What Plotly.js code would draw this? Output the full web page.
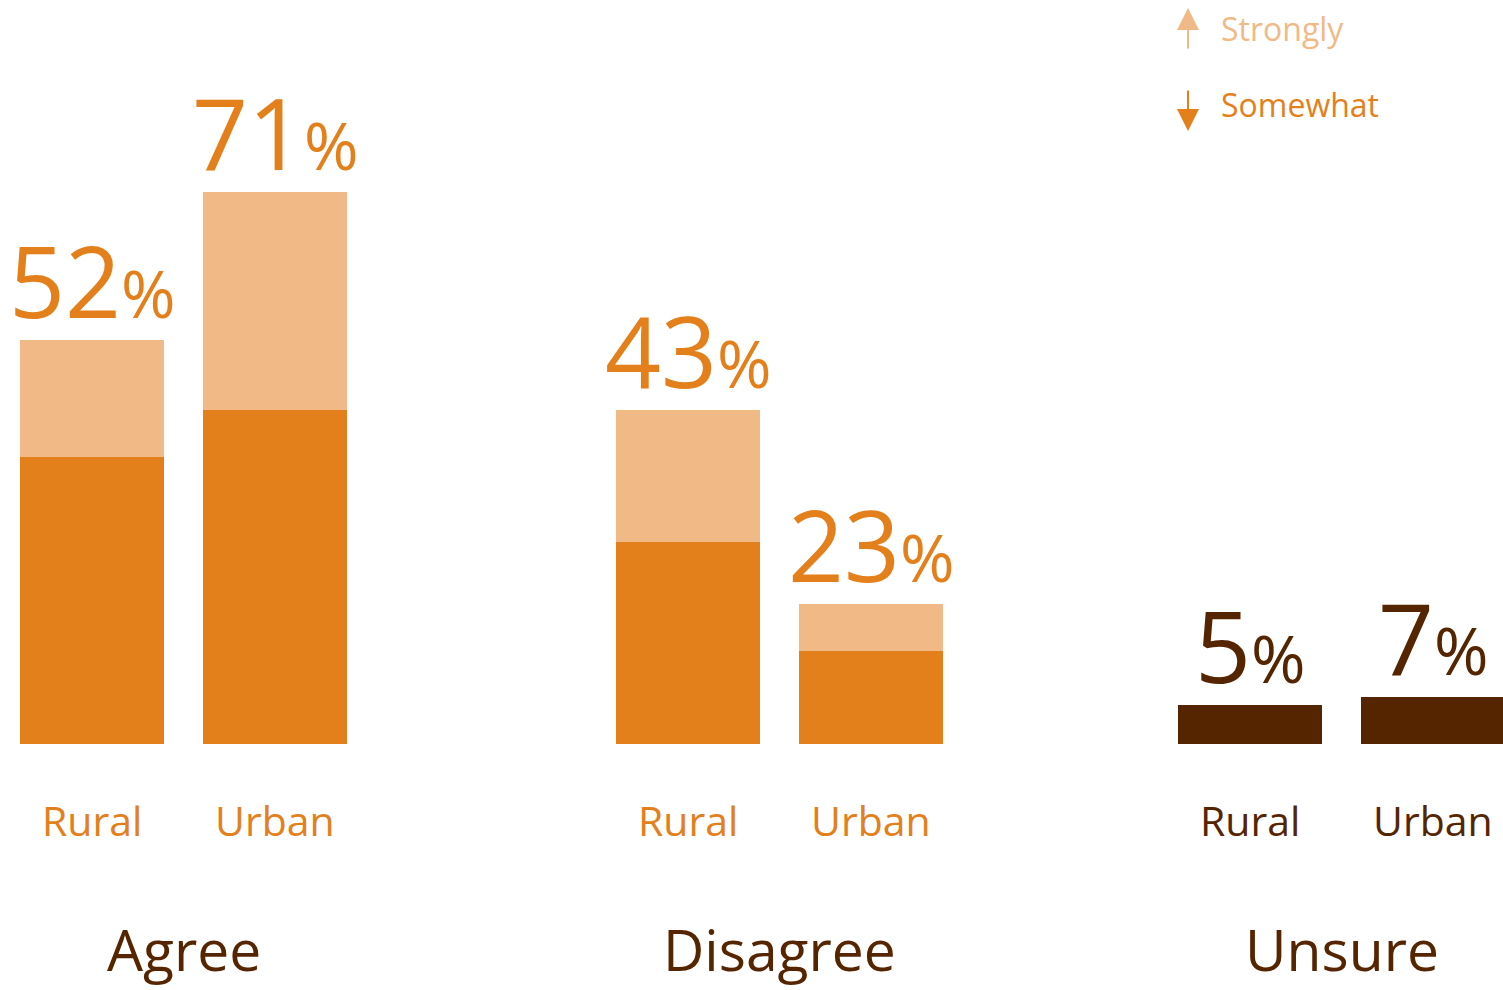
<!DOCTYPE html>
<html>
<head>
<meta charset="utf-8">
<script src="https://cdn.plot.ly/plotly-3.0.1.min.js"></script>
<style>html,body{margin:0;padding:0;background:#fff;}#chart{width:1503px;height:990px;}</style>
</head>
<body>
<div id="chart"></div>
<script>
// ---- data ----
var groups = ['Agree', 'Disagree', 'Unsure'];
var areas = ['Rural', 'Urban'];
// bar segments as drawn (percent)
var somewhat = [37, 43, 26, 12];          // Agree Rural, Agree Urban, Disagree Rural, Disagree Urban
var strongly = [15, 28, 17, 6];
var unsure = [5, 6];                       // Unsure Rural, Unsure Urban
// printed labels (percent)
var labelValues = [52, 71, 43, 23, 5, 7];

// ---- layout helpers ----
var W = 1503, H = 990, B = 246;
var plotH = H - B;
var pxPerUnit = 7.77;
var groupCenter = [92, 688, 1250];
var subStep = 183;
function py2paper(py) { return (plotH - py) / plotH; }
function px2paper(px) { return px / W; }

var ORANGE = '#E3801C', LIGHT = '#F1B985', BROWN = '#552500';
var FONT = 'Open Sans, sans-serif';

var xAD = [], xUn = [];
[0, 1].forEach(function (g) { [0, 1].forEach(function (s) { xAD.push(groupCenter[g] + s * subStep); }); });
[0, 1].forEach(function (s) { xUn.push(groupCenter[2] + s * subStep); });
var allX = xAD.concat(xUn);

var traces = [
  { type: 'bar', x: xAD, y: somewhat, width: 144, marker: { color: ORANGE }, hoverinfo: 'skip', name: 'Somewhat' },
  { type: 'bar', x: xAD, y: strongly, width: 144, marker: { color: LIGHT }, hoverinfo: 'skip', name: 'Strongly' },
  { type: 'bar', x: xUn, y: unsure, width: 144, marker: { color: BROWN }, hoverinfo: 'skip', name: 'Unsure' }
];

var totals = somewhat.map(function (v, i) { return v + strongly[i]; }).concat(unsure);

var ann = [];
// value labels
allX.forEach(function (x, i) {
  var col = i < 4 ? ORANGE : BROWN;
  ann.push({
    x: x, y: totals[i], xref: 'x', yref: 'y', xanchor: 'center', yanchor: 'bottom',
    showarrow: false, borderpad: 0, yshift: -8,
    text: labelValues[i] + '<span style="font-size:66px">%</span>',
    font: { family: FONT, size: 98, color: col }
  });
});
// Rural / Urban labels
allX.forEach(function (x, i) {
  ann.push({
    x: x, y: py2paper(820), xref: 'x', yref: 'paper', xanchor: 'center', yanchor: 'middle',
    showarrow: false, text: areas[i % 2],
    font: { family: FONT, size: 41, color: i < 4 ? ORANGE : BROWN }
  });
});
// group titles
groups.forEach(function (g, i) {
  ann.push({
    x: groupCenter[i] + subStep / 2, y: py2paper(949), xref: 'x', yref: 'paper', xanchor: 'center', yanchor: 'middle',
    showarrow: false, text: g,
    font: { family: FONT, size: 57, color: BROWN }
  });
});
// legend
ann.push({ x: px2paper(1188), y: py2paper(8), xref: 'paper', yref: 'paper', text: '', showarrow: true,
  ax: 0, ay: 42, arrowhead: 2, arrowsize: 2.2, arrowwidth: 2, arrowcolor: LIGHT, standoff: 0 });
ann.push({ x: px2paper(1188), y: py2paper(131), xref: 'paper', yref: 'paper', text: '', showarrow: true,
  ax: 0, ay: -42, arrowhead: 2, arrowsize: 2.2, arrowwidth: 2, arrowcolor: ORANGE, standoff: 0 });
ann.push({ x: px2paper(1219), y: py2paper(29), xref: 'paper', yref: 'paper', xanchor: 'left', yanchor: 'middle',
  showarrow: false, text: 'Strongly', font: { family: FONT, size: 32, color: LIGHT } });
ann.push({ x: px2paper(1219), y: py2paper(105), xref: 'paper', yref: 'paper', xanchor: 'left', yanchor: 'middle',
  showarrow: false, text: 'Somewhat', font: { family: FONT, size: 32, color: ORANGE } });

var layout = {
  width: W, height: H,
  margin: { l: 0, r: 0, t: 0, b: B, pad: 0 },
  paper_bgcolor: '#fff', plot_bgcolor: '#fff',
  barmode: 'stack', showlegend: false,
  xaxis: { range: [0, W], visible: false, fixedrange: true },
  yaxis: { range: [0, plotH / pxPerUnit], visible: false, fixedrange: true },
  annotations: ann
};

Plotly.newPlot('chart', traces, layout, { displayModeBar: false, staticPlot: true });
</script>
</body>
</html>
